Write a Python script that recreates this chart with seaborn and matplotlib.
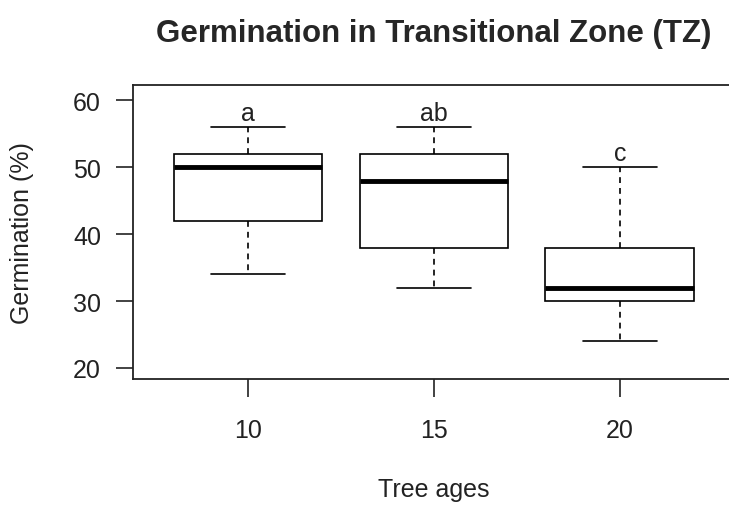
import matplotlib
matplotlib.use("Agg")
import matplotlib.pyplot as plt
import seaborn as sns
import pandas as pd

# five-number summaries
ages = ["10", "15", "20"]
whisker_low = [34, 32, 24]
q1 = [42, 38, 30]
median = [50, 48, 32]
q3 = [52, 52, 38]
whisker_high = [56, 56, 50]
letters = ["a", "ab", "c"]

rows = []
for i, age in enumerate(ages):
    for v in (whisker_low[i], q1[i], median[i], q3[i], whisker_high[i]):
        rows.append({"age": age, "germination": v})
df = pd.DataFrame(rows)

sns.set_style("white")
plt.rcParams["font.family"] = ["Liberation Sans", "DejaVu Sans"]

fig = plt.figure(figsize=(7.29, 5.10), dpi=100)
ax = fig.add_axes([0.1824, 0.2549, 0.8256, 0.5765])

sns.boxplot(
    data=df, x="age", y="germination", order=ages,
    color="white", saturation=1, linecolor="black", linewidth=1.2,
    width=0.8, whis=(0, 100), ax=ax,
    medianprops=dict(linewidth=3.5, color="black"),
    whiskerprops=dict(linestyle=(0, (3.5, 3)), color="black"),
    capprops=dict(color="black"),
    capwidths=0.4,
)

for i, lab in enumerate(letters):
    ax.text(i, whisker_high[i] + 0.3, lab, ha="center", va="bottom",
            fontsize=18, color="#222222")

ax.set_xlim(-0.618, 2.618)
ax.set_ylim(18.35, 62.3)
ax.set_yticks([20, 30, 40, 50, 60])

for s in ax.spines.values():
    s.set_visible(True)
    s.set_color("#222222")
    s.set_linewidth(1.3)

ax.tick_params(axis="both", direction="out", length=12, width=1.2,
               bottom=True, left=True,
               color="#222222", labelsize=18, labelcolor="#222222", pad=11)
ax.tick_params(axis="x", length=13, pad=15)

ax.set_xlabel("Tree ages", fontsize=18, color="#222222", labelpad=25)
ax.set_ylabel("Germination (%)", fontsize=18, color="#222222", labelpad=28)
ax.set_title("Germination in Transitional Zone (TZ)", fontsize=22.5,
             fontweight="bold", pad=32)

fig.savefig("out.png", dpi=100)
